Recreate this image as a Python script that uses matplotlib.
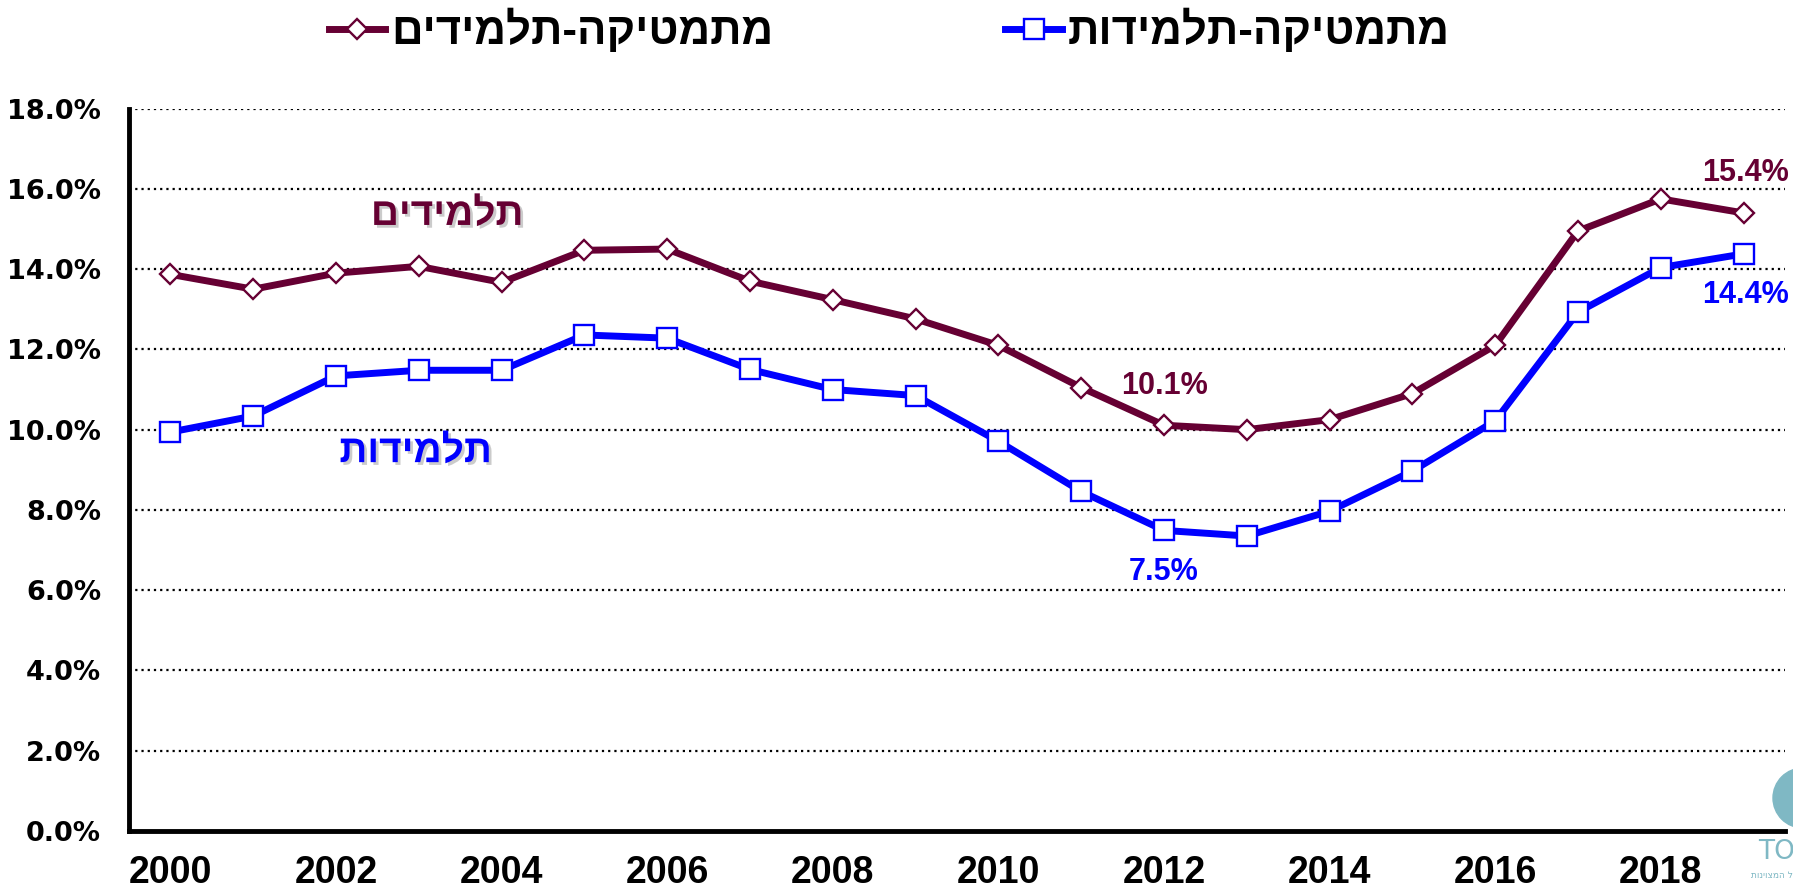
import matplotlib
matplotlib.use("Agg")
import matplotlib.pyplot as plt
import matplotlib.patheffects as pe
from matplotlib.lines import Line2D
from matplotlib.patches import Ellipse

# ---------------- data ----------------
years = list(range(2000, 2020))
boys = [13.87, 13.50, 13.90, 14.07, 13.67, 14.47, 14.50, 13.70, 13.24, 12.76,
        12.10, 11.05, 10.11, 10.00, 10.25, 10.90, 12.10, 14.95, 15.75, 15.40]
girls = [9.94, 10.34, 11.34, 11.48, 11.48, 12.36, 12.28, 11.50, 11.00, 10.85,
         9.71, 8.46, 7.49, 7.35, 7.97, 8.97, 10.22, 12.93, 14.04, 14.38]
legend_boys = "מתמטיקה-תלמידים"
legend_girls = "מתמטיקה-תלמידות"
label_boys = "תלמידים"
label_girls = "תלמידות"
xticks = list(range(2000, 2019, 2))
yticks = list(range(0, 19, 2))


def rtl(s):
    return s[::-1]


MAROON = "#660033"
BLUE = "#0000FF"
LW = 5.0

fig = plt.figure(figsize=(17.93, 8.94), dpi=100)
ax = fig.add_axes([0.07195, 0.07047, 0.92359, 0.80805])

ax.plot(years, boys, color=MAROON, lw=LW, marker="D", ms=10.5,
        mfc="white", mec=MAROON, mew=1.7, zorder=3)
ax.plot(years, girls, color=BLUE, lw=LW, marker="s", ms=14,
        mfc="white", mec=BLUE, mew=1.7, zorder=3)

ax.set_xlim(1999.5, 2019.5)
ax.set_ylim(0, 18)
ax.set_xticks(xticks)
ax.set_xticklabels([str(y) for y in xticks], fontfamily="Liberation Sans",
                   fontweight="bold", fontsize=27)
ax.set_yticks(yticks)
ax.set_yticklabels([f"{v:.1f}%" for v in yticks], fontfamily="DejaVu Sans",
                   fontweight="bold", fontsize=19.5)
ax.tick_params(axis="x", length=0, pad=17)
ax.tick_params(axis="y", length=0, pad=20)

for v in yticks[1:]:
    ax.axhline(v, color="black", lw=1.6, ls=(0, (1, 1.8)), zorder=1)

for s in ["top", "right"]:
    ax.spines[s].set_visible(False)
ax.spines["left"].set_linewidth(3.5)
ax.spines["bottom"].set_linewidth(3.5)

# value annotations
ann = dict(fontfamily="Liberation Sans", fontweight="bold", fontsize=22,
           ha="center", va="center")
ax.text(2012.01, 11.09, "10.1%", color=MAROON, **ann)
ax.text(2012.0, 6.45, "7.5%", color=BLUE, **ann)
ax.text(2019.02, 16.39, "15.4%", color=MAROON, **ann)
ax.text(2019.02, 13.35, "14.4%", color=BLUE, **ann)

shadow = [pe.SimplePatchShadow(offset=(2, -2), shadow_rgbFace="#999999", alpha=0.5),
          pe.Normal()]
ax.text(2003.34, 15.35, rtl(label_boys), color=MAROON, fontfamily="Liberation Sans",
        fontweight="bold", fontsize=28, ha="center", va="center", path_effects=shadow)
ax.text(2002.96, 9.44, rtl(label_girls), color=BLUE, fontfamily="Liberation Sans",
        fontweight="bold", fontsize=28, ha="center", va="center", path_effects=shadow)

# legend
handles = [
    Line2D([], [], color=MAROON, lw=LW, marker="D", ms=10.5, mfc="white", mec=MAROON, mew=1.7),
    Line2D([], [], color=BLUE, lw=LW, marker="s", ms=14, mfc="white", mec=BLUE, mew=1.7),
]
fig.legend(handles, [rtl(legend_boys), rtl(legend_girls)], ncol=2, frameon=False,
           loc="center", bbox_to_anchor=(0.4959, 0.965),
           prop=dict(family="Liberation Sans", weight="bold", size=31.5),
           handlelength=1.3, handletextpad=0.13, columnspacing=5.3, numpoints=1)

# partial logo at bottom right
teal = "#7fb8c4"
r = 30
fig.patches.append(Ellipse((1803 / 1793, 1 - 798 / 894), 2 * r / 1793, 2 * r / 894,
                           transform=fig.transFigure, color=teal, zorder=0))
fig.text(1758 / 1793, 1 - 852 / 894, "TO", color=teal, fontsize=19,
         fontfamily="DejaVu Sans", va="center", ha="left")
fig.text(1.0, 1 - 876 / 894, rtl("ל המצוינות"), color=teal, fontsize=6.5,
         fontfamily="DejaVu Sans", va="center", ha="right")

fig.savefig("out.png", dpi=100)
